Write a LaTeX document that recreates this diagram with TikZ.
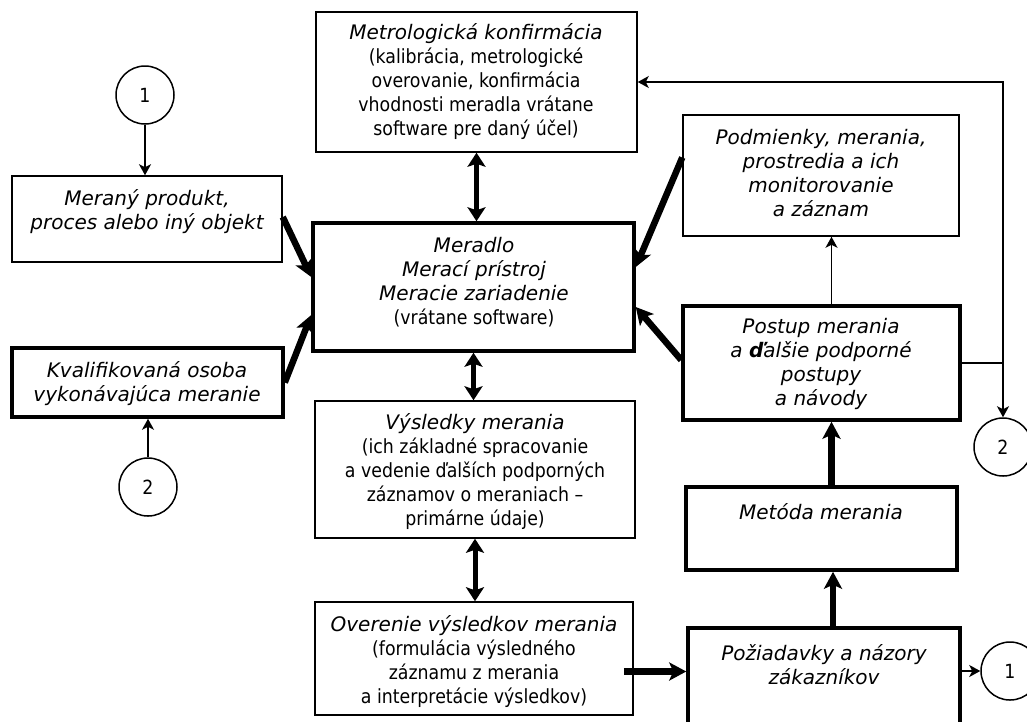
\documentclass[tikz,border=0pt]{standalone}
\usepackage{fontspec}
\setmainfont{DejaVu Sans}
\newfontfamily\bodyfont[FakeStretch=0.89]{DejaVu Sans}
\usetikzlibrary{arrows.meta,calc}
\newcommand\hdf{\fontsize{20}{24}\selectfont\itshape}
\newcommand\bdf{\bodyfont\fontsize{19.5}{24}\selectfont\upshape}
\newcommand\bl[1]{{\bdf #1}}
\tikzset{
  thinbox/.style={draw, line width=1.5pt, inner sep=0pt},
  thickbox/.style={draw, line width=3.5pt, inner sep=0pt},
  circ/.style={draw, circle, line width=1.5pt, inner sep=0pt, minimum size=58pt, font=\bdf},
  txt/.style={align=center, inner sep=0pt, font=\hdf},
  thinarrow/.style={line width=1.5pt, -{Stealth[length=11pt,width=12pt,inset=3pt]}},
  thinline/.style={line width=1.5pt},
  thickarrow/.style={line width=6.5pt, -{Stealth[length=17pt,width=18pt,inset=4pt]}},
  dblarrow/.style={line width=5pt, {Stealth[length=14pt,width=18pt,inset=3pt]}-{Stealth[length=14pt,width=18pt,inset=3pt]}},
}
\begin{document}
\begin{tikzpicture}[x=1pt,y=-1pt]
\useasboundingbox (0,0) rectangle (1027,721);
\clip (0,0) rectangle (1027,721);
\fill[white] (0,0) rectangle (1027,721);

% boxes
\node[thinbox, minimum width=270pt, minimum height=86pt] (merany) at (147,219) {};
\node[thinbox, minimum width=321pt, minimum height=140pt] (metro) at (476.5,82) {};
\node[thinbox, minimum width=276pt, minimum height=121pt] (podm) at (821,175.5) {};
\node[thickbox, minimum width=321pt, minimum height=128pt] (meradlo) at (473.5,287) {};
\node[thickbox, minimum width=271pt, minimum height=69pt] (kvalif) at (147.5,382.5) {};
\node[thickbox, minimum width=277pt, minimum height=114pt] (postup) at (821.5,363) {};
\node[thinbox, minimum width=320pt, minimum height=137pt] (vysl) at (475,469.5) {};
\node[thickbox, minimum width=271pt, minimum height=83pt] (metoda) at (821.5,528.5) {};
\node[thinbox, minimum width=318pt, minimum height=113pt] (overenie) at (474,658.5) {};
\node[thickbox, minimum width=272pt, minimum height=112pt] (pozad) at (824,684) {};

% texts
\node[txt] (meranyT) at (147,212) {Meraný produkt,\\proces alebo iný objekt};
\node[txt] (metroT) at (476,82) {Metrologická konfirmácia\\\bl{(kalibrácia, metrologické}\\\bl{overovanie, konfirmácia}\\\bl{vhodnosti meradla vrátane}\\\bl{software pre daný účel)}};
\node[txt] (podmT) at (821,173) {Podmienky, merania,\\prostredia a ich\\monitorovanie\\a záznam};
\node[txt] (meradloT) at (474,282) {Meradlo\\Merací prístroj\\Meracie zariadenie\\\bl{(vrátane software)}};
\node[txt] (kvalifT) at (147,384) {Kvalifikovaná osoba\\vykonávajúca meranie};
\node[txt] (postupT) at (821,364) {Postup merania\\a \textbf{ď}alšie podporné\\postupy\\a návody};
\node[txt] (vyslT) at (475,472) {Výsledky merania\\\bl{(ich základné spracovanie}\\\bl{a vedenie ďalších podporných}\\\bl{záznamov o meraniach –}\\\bl{primárne údaje)}};
\node[txt] (metodaT) at (821,512) {Metóda merania};
\node[txt] (overenieT) at (474,662) {Overenie výsledkov merania\\\bl{(formulácia výsledného}\\\bl{záznamu z merania}\\\bl{a interpretácie výsledkov)}};
\node[txt] (pozadT) at (824,665) {Požiadavky a názory\\zákazníkov};

% circles
\node[circ] (c1a) at (145,95) {1};
\node[circ] (c2a) at (148,487) {2};
\node[circ] (c2b) at (1003,447) {2};
\node[circ] (c1b) at (1010,671) {1};

% thin connectors
\draw[thinarrow] (c1a.south) -- (c1a.south |- merany.north);
\draw[thinarrow] (c2a.north) -- (c2a.north |- kvalif.south);
\draw[thinarrow] ([xshift=10pt]postup.north) -- ([xshift=10pt]postup.north |- podm.south);
\draw[thinarrow] (pozad.east |- c1b.west) -- (c1b.west);
\coordinate (j) at (c2b.north |- postup.east);
\draw[thinline] (postup.east) -- (j);
\draw[thinarrow] (j) |- (metro.east);
\draw[thinarrow] (j) -- (c2b.north);

% thick connectors
\draw[thickarrow] ([yshift=2pt]merany.east) -- ([yshift=10pt]meradlo.west);
\draw[thickarrow] (kvalif.east) -- ([yshift=-28pt]meradlo.west);
\draw[thickarrow] ([yshift=18pt]podm.west) -- ([yshift=20pt]meradlo.east);
\draw[thickarrow] ([yshift=3pt]postup.west) -- ([yshift=-20pt]meradlo.east);
\draw[thickarrow] ([xshift=10pt]metoda.north) -- ([xshift=10pt]metoda.north |- postup.south);
\draw[thickarrow] ([xshift=9pt]pozad.north) -- ([xshift=9pt]pozad.north |- metoda.south);
\coordinate (ov) at ([xshift=-10pt,yshift=-13pt]overenie.east);
\draw[thickarrow] (ov) -- (ov -| pozad.west);

% double arrows
\draw[dblarrow] (metro.south) -- (metro.south |- meradlo.north);
\draw[dblarrow] (meradlo.south) -- (meradlo.south |- vysl.north);
\draw[dblarrow] (vysl.south) -- (vysl.south |- overenie.north);
\end{tikzpicture}
\end{document}
